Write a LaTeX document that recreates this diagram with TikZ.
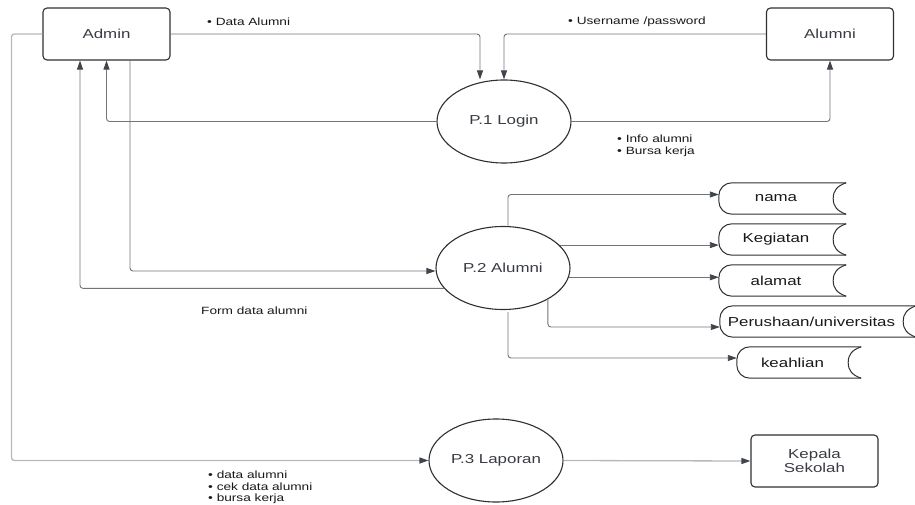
\documentclass[tikz,border=0pt]{standalone}
\usepackage{fontspec}
\setmainfont{Liberation Sans}[FakeStretch=1.3]
\usetikzlibrary{shapes.geometric,arrows.meta}
\definecolor{ink}{HTML}{2E3033}
\definecolor{txt}{HTML}{383C42}
\definecolor{wire}{HTML}{70757C}
\definecolor{pale}{HTML}{B8B8B8}
\definecolor{tip}{HTML}{40454C}
\tikzset{
  entity/.style={draw=ink, line width=1.1pt, rounded corners=4pt, minimum width=127pt,
    minimum height=52pt, inner sep=0pt, text=txt, font=\fontsize{13}{14}\selectfont, align=center},
  proc/.style={ellipse, draw=ink, line width=1.1pt, minimum width=134pt, minimum height=83pt,
    inner sep=0pt, text=txt, font=\fontsize{13}{15}\selectfont},
  storebox/.style={minimum height=31pt, inner sep=0pt, text=black!90, font=\fontsize{13}{15}\selectfont},
  storeline/.style={draw=ink, line width=1pt},
  flow/.style={draw=wire, line width=0.9pt, rounded corners=3pt,
    -{Triangle[length=9pt,width=6pt,color=tip]}},
  flowpale/.style={flow, draw=pale, line width=1.3pt},
  note/.style={font=\fontsize{10.5}{11.5}\selectfont, text=black!90, align=left, anchor=west, inner sep=0pt},
}
% data store: rounded left end, open right end with an inner arc
\newcommand\drawstore[1]{%
  \draw[storeline, rounded corners=13pt] ([xshift=13pt]#1.north east) -- (#1.north west)
    -- (#1.south west) -- ([xshift=13pt]#1.south east);
  \draw[storeline] ([xshift=13pt]#1.north east) .. controls +(-9,3) and +(0,-8) .. (#1.east)
    .. controls +(0,8) and +(-9,-3) .. ([xshift=13pt]#1.south east);
}
\begin{document}
\begin{tikzpicture}[x=1pt, y=-1pt]
  \fill[white] (0,0) rectangle (915,505);
  \useasboundingbox (0,0) rectangle (915,505);

  % external entities
  \node[entity] (admin)  at (106.5,34) {Admin};
  \node[entity] (alumni) at (830,34) {Alumni};
  \node[entity] (kepala) at (814.5,461) {Kepala\\Sekolah};

  % processes
  \node[proc] (p1) at (504,121.5) {P.1 Login};
  \node[proc] (p2) at (503,268) {P.2 Alumni};
  \node[proc] (p3) at (496,460.5) {P.3 Laporan};

  % data stores
  \node[storebox, minimum width=114pt] (nama)     at (776,198.5) {nama};
  \node[storebox, minimum width=114pt] (kegiatan) at (776,239.5) {Kegiatan};
  \node[storebox, minimum width=114pt] (alamat)   at (776,280.5) {alamat};
  \node[storebox, minimum width=183pt] (perus)    at (811.5,321.5) {Perushaan/universitas};
  \node[storebox, minimum width=111pt] (keah)     at (792.5,362.5) {keahlian};
  \drawstore{nama}
  \drawstore{kegiatan}
  \drawstore{alamat}
  \drawstore{perus}
  \drawstore{keah}

  % flows around the login process
  \draw[flow] (admin.east) -| ([xshift=-24pt]p1.north);
  \draw[flow] (alumni.west) -| (p1.north);
  \draw[flow] (p1.west) -| (admin.south);
  \draw[flow] (p1.east) -| (alumni.south);

  % flows between admin and the alumni process
  \draw[flow] ([xshift=23.5pt]admin.south) |- ([yshift=-3pt]p2.west);
  \draw[flow] (p2.199) -| ([xshift=-26.5pt]admin.south);

  % alumni process to its stores
  \draw[flow] ([xshift=5pt]p2.north) |- ([yshift=4pt]nama.west);
  \draw[flow] (p2.22) -- (p2.22 -| kegiatan.west);
  \draw[flow] (p2.352) -- (p2.352 -| alamat.west);
  \draw[flow] (p2.325) |- ([yshift=-5.5pt]perus.west);
  \draw[flow] ([xshift=5pt,yshift=-2pt]p2.south) |- ([yshift=4.5pt]keah.west);

  % report flows
  \draw[flowpale] (admin.west) -- ++(-31,0) |- (p3.west);
  \draw[flowpale] (p3.east) -- (kepala.west);

  % flow labels
  \node[note] (lblData)  at (207,22) {• Data Alumni};
  \node[note] (lblUser)  at (568,22) {• Username /password};
  \node[note] (lblInfo)  at (617,146) {• Info alumni\\• Bursa kerja};
  \node[note] (lblForm)  at (201,311) {Form data alumni};
  \node[note] (lblLap)   at (208,487.5) {• data alumni\\• cek data alumni\\• bursa kerja};
\end{tikzpicture}
\end{document}
